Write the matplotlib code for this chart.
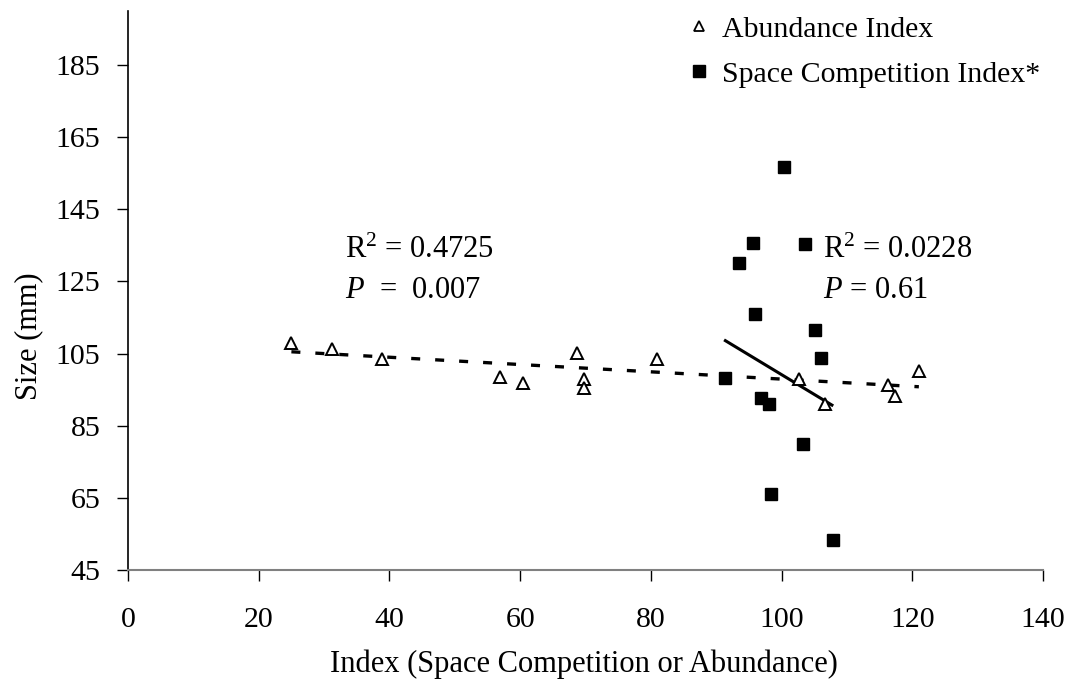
import numpy as np
import matplotlib
matplotlib.use("Agg")
import matplotlib.pyplot as plt
from matplotlib.lines import Line2D

plt.rcParams['font.family'] = ['Liberation Serif', 'DejaVu Serif']
plt.rcParams['mathtext.fontset'] = 'custom'
plt.rcParams['mathtext.rm'] = 'Liberation Serif'
plt.rcParams['mathtext.it'] = 'Liberation Serif:italic'

# abundance index (open triangles)
abund_x = [25.0, 31.2, 38.9, 56.9, 60.5, 68.7, 69.7, 69.7, 81.0, 102.7, 106.7, 116.3, 117.3, 121.0]
abund_y = [107.8, 106.2, 103.4, 98.4, 96.8, 105.1, 97.9, 95.4, 103.4, 97.9, 91.0, 96.3, 93.2, 100.2]

# space competition index (filled squares)
space_x = [100.3, 95.7, 103.6, 93.5, 96.0, 105.1, 106.0, 91.4, 96.9, 98.1, 103.3, 98.4, 107.8]
space_y = [156.8, 135.7, 135.3, 130.2, 115.9, 111.5, 103.7, 98.1, 92.6, 90.9, 79.9, 66.1, 53.3]

# trendline end values
abund_fit_x = [25.0, 121.0]
abund_fit_y = [105.5, 95.8]
space_fit_x = [91.2, 107.9]
space_fit_y = [108.8, 90.5]

x_ticks = [0, 20, 40, 60, 80, 100, 120, 140]
y_ticks = [45, 65, 85, 105, 125, 145, 165, 185]

fig = plt.figure(figsize=(10.71, 6.84), dpi=100)
ax = fig.add_axes([0.1195, 0.1667, 0.8544, 0.8173])

ax.plot(abund_fit_x, abund_fit_y, color='black', lw=2.4, linestyle=(0, (2.7, 4.5)),
        dash_capstyle='butt', zorder=2)
ax.plot(space_fit_x, space_fit_y, color='black', lw=2.2, solid_capstyle='butt', zorder=2)

ax.plot(abund_x, abund_y, linestyle='none', marker='^', markersize=9,
        markerfacecolor='white', markeredgecolor='black', markeredgewidth=1.4, zorder=3)
ax.plot(space_x, space_y, linestyle='none', marker='s', markersize=9,
        markerfacecolor='black', markeredgecolor='black', zorder=3)

ax.set_xlim(0, 140)
ax.set_ylim(45, 200)
ax.set_xticks(x_ticks)
ax.set_yticks(y_ticks)
ax.tick_params(axis='both', direction='out', length=8, width=1, labelsize=21.5)
ax.tick_params(axis='x', pad=19)
ax.tick_params(axis='y', pad=12)
for s in ['top', 'right']:
    ax.spines[s].set_visible(False)
ax.spines['left'].set_linewidth(1.2)
ax.spines['bottom'].set_color('#808080')
ax.spines['bottom'].set_linewidth(1.5)

ax.set_xlabel('Index (Space Competition or Abundance)', fontsize=22)
ax.set_ylabel('Size (mm)', fontsize=22)
ax.xaxis.set_label_coords(0.498, -0.142)
ax.yaxis.set_label_coords(-0.093, 0.418)

ax.text(33.2, 131.5, r'R$^2$ = 0.4725', fontsize=22, va='baseline')
ax.text(33.2, 120.5, r'$P$  =  0.007', fontsize=22, va='baseline')
ax.text(106.3, 131.5, r'R$^2$ = 0.0228', fontsize=22, va='baseline')
ax.text(106.3, 120.5, r'$P$ = 0.61', fontsize=22, va='baseline')

handles = [
    Line2D([], [], linestyle='none', marker='^', markersize=7, markerfacecolor='white',
           markeredgecolor='black', markeredgewidth=1.3, label='Abundance Index'),
    Line2D([], [], linestyle='none', marker='s', markersize=8, markerfacecolor='black',
           markeredgecolor='black', label='Space Competition Index*'),
]
ax.legend(handles=handles, loc='upper left', bbox_to_anchor=(692 / 1071, 668 / 684),
          bbox_transform=fig.transFigure, frameon=False, fontsize=21.5, borderpad=0,
          borderaxespad=0, handlelength=0.5, handletextpad=0.52, labelspacing=0.6)

fig.savefig('out.png', dpi=100)
